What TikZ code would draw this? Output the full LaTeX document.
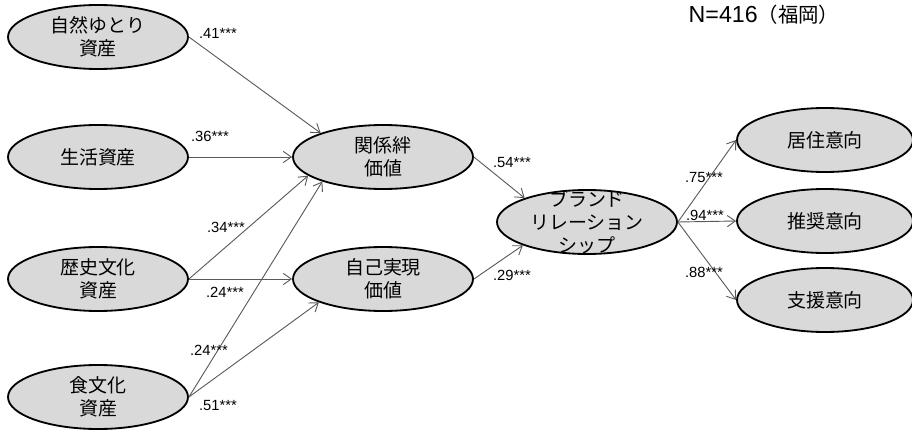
\documentclass[tikz,border=0pt]{standalone}
\usepackage{fontspec}
\setmainfont{Liberation Sans}
\newfontfamily\jp{Noto Sans CJK JP}
\usetikzlibrary{shapes.geometric,arrows.meta}
\newcommand{\coef}[1]{#1***}

\begin{document}
\begin{tikzpicture}[
  latent/.style={draw, ellipse, line width=1.3pt, fill=black!15,
    minimum width=4.5cm, minimum height=1.6cm, inner sep=0pt,
    align=center, font=\jp\fontsize{13.5}{16.5}\selectfont},
  effect/.style={-{Straight Barb[length=2mm,width=2.8mm]}, line width=0.65pt, black!65},
  est/.style={inner sep=0pt, font=\fontsize{10.5}{12}\selectfont}
]
\useasboundingbox (0,0) rectangle (22.8,10.875);

% assets
\node[latent] (nat)  at (2.45,9.95) {自然ゆとり\\資産};
\node[latent] (life) at (2.45,6.95) {生活資産};
\node[latent] (hist) at (2.45,3.9)  {歴史文化\\資産};
\node[latent] (food) at (2.45,0.95) {食文化\\資産};

% values
\node[latent] (bond) at (9.575,6.95) {関係絆\\価値};
\node[latent] (self) at (9.575,3.9)  {自己実現\\価値};

% brand relationship
\node[latent, label={[align=center, font=\jp\fontsize{13.5}{16.5}\selectfont]center:ブランド\\リレーション\\シップ}]
  (brand) at (14.675,5.325) {};

% intentions
\node[latent, minimum width=4.4cm] (live) at (20.625,7.375) {居住意向};
\node[latent, minimum width=4.4cm] (rec)  at (20.625,5.35)  {推奨意向};
\node[latent, minimum width=4.4cm] (sup)  at (20.625,3.375) {支援意向};

\node[inner sep=0pt, font=\fontsize{16.5}{18}\selectfont] (sample) at (19.1,10.5)
  {N=416{\jp\fontsize{14.5}{16}\selectfont （福岡）}};

\draw[effect] (nat.east)  -- (bond.159);
\draw[effect] (life.east) -- (bond.west);
\draw[effect] (hist.east) -- (bond.194);
\draw[effect] (hist.east) -- (self.west);
\draw[effect] (food.east) -- (bond.202);
\draw[effect] (food.east) -- (self.200);
\draw[effect] (bond.east) -- (brand.159);
\draw[effect] (self.east) -- (brand.200);
\draw[effect] (brand.east) -- (live.west);
\draw[effect] (brand.east) -- (rec.west);
\draw[effect] (brand.east) -- (sup.west);

\node[est] (e41) at (5.45,10.05) {\coef{.41}};
\node[est] (e36) at (5.25,7.475) {\coef{.36}};
\node[est] (e34) at (5.65,5.2)   {\coef{.34}};
\node[est] (e24a) at (5.625,3.575) {\coef{.24}};
\node[est] (e24b) at (5.225,2.125) {\coef{.24}};
\node[est] (e51) at (5.45,0.75)  {\coef{.51}};
\node[est] (e54) at (12.8,6.825) {\coef{.54}};
\node[est] (e29) at (12.8,4.0)   {\coef{.29}};
\node[est] (e75) at (17.6,6.45)  {\coef{.75}};
\node[est] (e94) at (17.625,5.5) {\coef{.94}};
\node[est] (e88) at (17.6,4.075) {\coef{.88}};
\end{tikzpicture}
\end{document}
